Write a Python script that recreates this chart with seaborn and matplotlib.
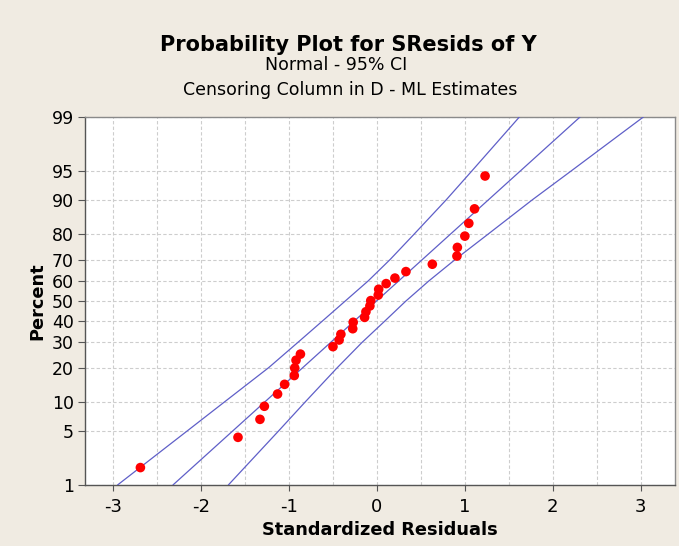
import numpy as np
import pandas as pd
import seaborn as sns
import matplotlib
matplotlib.use("Agg")
import matplotlib.pyplot as plt
from statistics import NormalDist

# values
resid_x = [-2.69, -1.58, -1.33, -1.28, -1.13, -1.05, -0.94, -0.935, -0.92, -0.87,
           -0.50, -0.43, -0.41, -0.275, -0.27, -0.14, -0.125, -0.08, -0.07, 0.015,
           0.02, 0.105, 0.205, 0.33, 0.63, 0.91, 0.915, 1.0, 1.045, 1.11, 1.23]
resid_pct = [1.76, 4.24, 6.73, 9.16, 11.98, 14.6, 17.3, 19.85, 22.7, 25.1,
             28.2, 31.1, 33.7, 36.3, 39.4, 41.8, 44.6, 47.5, 50.2, 53.0,
             55.9, 58.7, 61.4, 64.5, 67.9, 71.5, 75.1, 79.4, 83.7, 87.8, 94.3]

fit_pct = [1, 99]
fit_x = [-2.32, 2.31]

band_pct = [1, 5, 10, 20, 30, 40, 50, 60, 70, 80, 90, 95, 99]
band_lo_x = [-2.95, -2.16, -1.74, -1.23, -0.90, -0.62, -0.36, -0.10, 0.15, 0.42, 0.79, 1.08, 1.62]
band_hi_x = [-1.69, -1.12, -0.82, -0.45, -0.17, 0.09, 0.33, 0.59, 0.89, 1.26, 1.77, 2.21, 3.03]

pct_ticks = [1, 5, 10, 20, 30, 40, 50, 60, 70, 80, 90, 95, 99]
x_ticks = [-3, -2, -1, 0, 1, 2, 3]

bg = "#F0EBE2"
line_col = "#5F5FC8"

sns.set_style("white")
plt.rcParams["font.family"] = ["DejaVu Sans"]
plt.rcParams["axes.unicode_minus"] = False
plt.rcParams["text.color"] = "black"
plt.rcParams["axes.labelcolor"] = "black"
plt.rcParams["xtick.color"] = "black"
plt.rcParams["ytick.color"] = "black"

nd = NormalDist()


def pct_to_z(p):
    p = np.clip(np.asarray(p, dtype=float), 1e-6, 100 - 1e-6)
    return np.vectorize(nd.inv_cdf, otypes=[float])(p / 100.0)


def z_to_pct(z):
    z = np.asarray(z, dtype=float)
    return np.vectorize(nd.cdf, otypes=[float])(z) * 100.0


fig = plt.figure(figsize=(6.79, 5.46), dpi=100, facecolor=bg)
ax = fig.add_axes([85 / 679, 1 - 485 / 546, 590 / 679, 368 / 546])
ax.set_facecolor("white")
ax.set_yscale("function", functions=(pct_to_z, z_to_pct))

pts = pd.DataFrame({"x": resid_x, "pct": resid_pct})
fit = pd.DataFrame({"x": fit_x, "pct": fit_pct})
lo = pd.DataFrame({"x": band_lo_x, "pct": band_pct})
hi = pd.DataFrame({"x": band_hi_x, "pct": band_pct})

for d in (fit, lo, hi):
    sns.lineplot(data=d, x="x", y="pct", ax=ax, color=line_col, lw=0.9,
                 estimator=None, sort=False, zorder=3)
sns.scatterplot(data=pts, x="x", y="pct", ax=ax, color="#FF0000", s=48,
                edgecolor="none", zorder=4)

ax.set_xlim(-3.32, 3.39)
ax.set_ylim(1, 99)
ax.set_xticks(x_ticks)
ax.set_xticks(np.arange(-3, 3.01, 0.5), minor=True)
ax.set_yticks(pct_ticks)
ax.set_yticklabels([str(t) for t in pct_ticks])
ax.yaxis.set_minor_locator(matplotlib.ticker.NullLocator())
ax.grid(True, which="both", color="#CDCDCD", linestyle=(0, (3, 2)), lw=0.8, zorder=0)
ax.set_axisbelow(True)

ax.tick_params(axis="y", which="major", length=5, width=0.8, color="#555555",
               labelsize=12.5, pad=3, left=True)
ax.tick_params(axis="x", which="major", length=4, width=0.8, color="#555555",
               labelsize=13, pad=5, bottom=True)
ax.tick_params(axis="x", which="minor", length=0)

for side in ["left", "bottom"]:
    ax.spines[side].set_color("#555555")
    ax.spines[side].set_linewidth(1.0)
for side in ["top", "right"]:
    ax.spines[side].set_color("#8A8A8A")
    ax.spines[side].set_linewidth(1.0)

ax.set_xlabel("Standardized Residuals", fontsize=12.8, fontweight="bold", va="center")
ax.set_ylabel("Percent", fontsize=12.8, fontweight="bold", va="center")
ax.xaxis.set_label_coords(0.5, -0.122)
ax.yaxis.set_label_coords(-0.081, 0.5)

fig.text(348 / 679, 1 - 51 / 546, "Probability Plot for SResids of Y",
         ha="center", va="baseline", fontsize=15, fontweight="bold")
fig.text(336 / 679, 1 - 70 / 546, "Normal - 95% CI",
         ha="center", va="baseline", fontsize=12.5)
fig.text(350 / 679, 1 - 95 / 546, "Censoring Column in D - ML Estimates",
         ha="center", va="baseline", fontsize=12.5)

fig.savefig("out.png", dpi=100, facecolor=bg)
